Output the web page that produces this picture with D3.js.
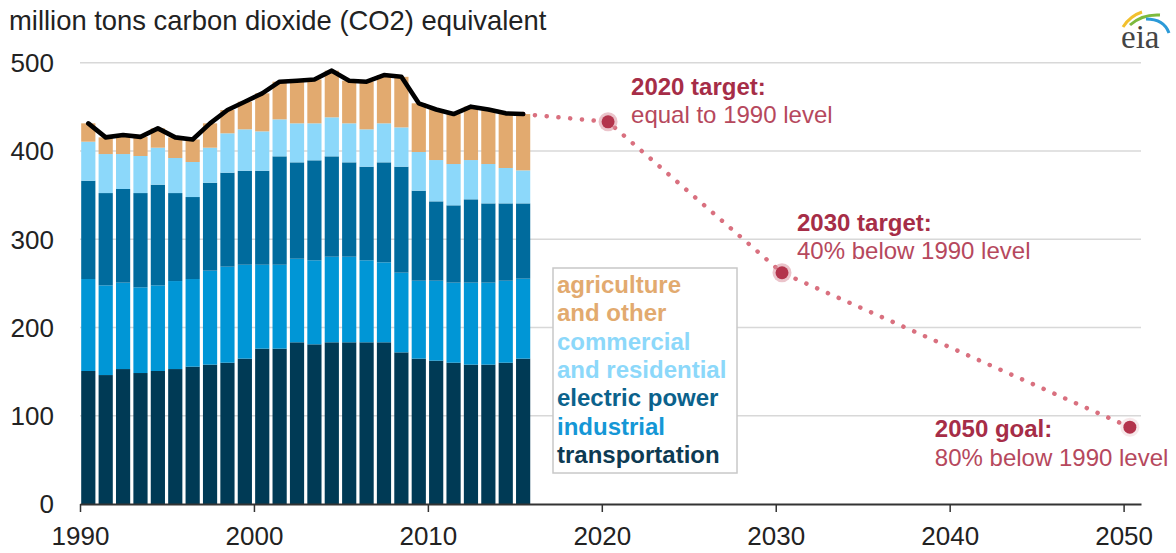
<!DOCTYPE html>
<html>
<head>
<meta charset="utf-8">
<script src="https://cdn.jsdelivr.net/npm/d3@7"></script>
<style>
  body { margin: 0; background: #fff; }
  svg { display: block; font-family: 'Liberation Sans', Arial, sans-serif; }
</style>
</head>
<body>
<svg width="1176" height="553"></svg>
<script>
// values, million tons CO2 equivalent
const years = [1990, 1991, 1992, 1993, 1994, 1995, 1996, 1997, 1998, 1999, 2000, 2001, 2002,
  2003, 2004, 2005, 2006, 2007, 2008, 2009, 2010, 2011, 2012, 2013, 2014, 2015];
const transportation = [150.7, 146.1, 152.9, 148.4, 150.7, 152.9, 155.6, 157.9, 160.1, 164.7, 176.0, 176.0, 183.2,
  180.9, 183.2, 183.2, 183.2, 183.2, 171.8, 164.7, 162.4, 160.1, 157.9, 157.9, 160.1, 164.7];
const industrial = [104.2, 101.6, 97.9, 97.1, 97.0, 99.7, 99.3, 106.5, 108.8, 106.4, 95.1, 95.1, 94.7,
  95.2, 97.0, 97.0, 92.9, 90.6, 90.3, 88.3, 90.6, 90.7, 92.9, 92.9, 92.9, 90.6];
const electricPower = [111.4, 104.6, 106.1, 106.8, 114.1, 99.7, 92.9, 99.6, 106.5, 106.5, 106.5, 122.8, 109.2,
  113.3, 113.7, 106.9, 106.1, 113.3, 120.1, 102.0, 89.9, 87.6, 94.4, 89.8, 87.6, 85.3];
const commercialResidential = [44.2, 44.2, 39.6, 42.0, 41.9, 39.7, 39.7, 39.7, 44.6, 46.9, 44.6, 41.9, 44.2,
  41.9, 44.2, 44.2, 42.3, 44.2, 44.5, 43.8, 46.8, 46.8, 44.5, 44.6, 40.1, 37.4];
const agricultureOther = [20.8, 18.9, 21.5, 21.7, 21.9, 23.4, 25.5, 27.6, 26.4, 31.3, 43.1, 42.7, 48.3,
  49.7, 52.9, 48.3, 54.0, 54.7, 57.3, 55.2, 57.3, 56.6, 60.5, 61.8, 61.9, 63.8];

const targetYears = [2020, 2030, 2050];
const targetValues = [433, 262, 87];
const targetTitles = ['2020 target:', '2030 target:', '2050 goal:'];
const targetNotes = ['equal to 1990 level', '40% below 1990 level', '80% below 1990 level'];

const yTicks = [0, 100, 200, 300, 400, 500];
const xTicks = [1990, 2000, 2010, 2020, 2030, 2040, 2050];

const seriesKeys = ['transportation', 'industrial', 'electric', 'commercial', 'agriculture'];
const seriesColors = ['#003a55', '#0096d6', '#006b9d', '#8cd8fa', '#e2aa6f'];
const legendLines = [
  ['agriculture', 'and other', '#e2aa6f'],
  ['commercial', 'and residential', '#8cd8fa'],
  ['electric power', '#0b628c'],
  ['industrial', '#1597d6'],
  ['transportation', '#0d3a52']
];

const svg = d3.select('svg');

const x = d3.scaleLinear().domain([1990, 2051]).range([80, 1141]);
const y = d3.scaleLinear().domain([0, 500]).range([504, 62.7]);
const barWidth = 14.2;
const barOffset = 1.2;
const barCenter = year => x(year) + barOffset + barWidth / 2;

// table for d3.stack
const table = years.map((year, i) => ({
  year,
  transportation: transportation[i],
  industrial: industrial[i],
  electric: electricPower[i],
  commercial: commercialResidential[i],
  agriculture: agricultureOther[i]
}));
const stacked = d3.stack().keys(seriesKeys)(table);

// gridlines
svg.append('g')
  .selectAll('line')
  .data(yTicks.filter(d => d > 0))
  .join('line')
  .attr('x1', x(1990))
  .attr('x2', x(2051))
  .attr('y1', d => y(d))
  .attr('y2', d => y(d))
  .attr('stroke', '#d8d8d8')
  .attr('stroke-width', 1.5);

// y labels
svg.append('g')
  .selectAll('text')
  .data(yTicks)
  .join('text')
  .attr('x', 54)
  .attr('y', d => y(d))
  .attr('dy', '0.36em')
  .attr('text-anchor', 'end')
  .attr('font-size', 26)
  .attr('fill', '#222')
  .text(d => d);

// title
svg.append('text')
  .attr('x', 9)
  .attr('y', 30)
  .attr('font-size', 27.4)
  .attr('fill', '#222')
  .text('million tons carbon dioxide (CO2) equivalent');

// stacked bars
stacked.forEach((layer, index) => {
  svg.append('g')
    .attr('fill', seriesColors[index])
    .selectAll('rect')
    .data(layer)
    .join('rect')
    .attr('x', d => x(d.data.year) + barOffset)
    .attr('width', barWidth)
    .attr('y', d => y(d[1]))
    .attr('height', d => y(d[0]) - y(d[1]));
});

const totals = table.map(d => ({ year: d.year, total: d3.sum(seriesKeys, k => d[k]) }));
const last = totals[totals.length - 1];

// dotted path to the targets
const dottedPoints = [[barCenter(last.year), y(last.total)]]
  .concat(targetYears.map((year, i) => [x(year + 0.36), y(targetValues[i])]));
svg.append('path')
  .attr('d', d3.line()(dottedPoints))
  .attr('fill', 'none')
  .attr('stroke', '#d9707f')
  .attr('stroke-width', 4.5)
  .attr('stroke-linecap', 'round')
  .attr('stroke-dasharray', '0.1 11.7');

// total line
svg.append('path')
  .attr('d', d3.line().x(d => barCenter(d.year)).y(d => y(d.total))(totals))
  .attr('fill', 'none')
  .attr('stroke', '#000')
  .attr('stroke-width', 4.6)
  .attr('stroke-linejoin', 'round')
  .attr('stroke-linecap', 'round');

// target dots
const targets = svg.append('g');
targetYears.forEach((year, i) => {
  const cx = x(year + 0.36);
  const cy = y(targetValues[i]);
  targets.append('circle')
    .attr('cx', cx).attr('cy', cy).attr('r', 9.5)
    .attr('fill', '#d88a98').attr('opacity', i === 2 ? 0.2 : 0.5);
  targets.append('circle')
    .attr('cx', cx).attr('cy', cy).attr('r', 6.5)
    .attr('fill', '#b3344c');
});

// target labels, offsets from each dot
const labelOffsets = [[23, -27], [15, -42], [-195, 10]];
targetYears.forEach((year, i) => {
  const lx = x(year + 0.36) + labelOffsets[i][0];
  const ly = y(targetValues[i]) + labelOffsets[i][1];
  svg.append('text')
    .attr('x', lx).attr('y', ly)
    .attr('font-size', 24).attr('font-weight', 'bold')
    .attr('fill', '#a62d47')
    .text(targetTitles[i]);
  svg.append('text')
    .attr('x', lx).attr('y', ly + 28.5)
    .attr('font-size', 24)
    .attr('fill', '#b6485d')
    .text(targetNotes[i]);
});

// x axis
const xAxis = svg.append('g')
  .attr('transform', `translate(0,${y(0)})`)
  .call(d3.axisBottom(x).tickValues(xTicks).tickFormat(d3.format('d')).tickSize(8).tickSizeOuter(0).tickPadding(15));
xAxis.select('.domain').attr('stroke', '#333').attr('stroke-width', 1.8);
xAxis.selectAll('.tick line').attr('stroke', '#333').attr('stroke-width', 1.5);
xAxis.selectAll('.tick text')
  .attr('font-size', 26)
  .attr('font-family', "'Liberation Sans', Arial, sans-serif")
  .attr('fill', '#222');

// legend
const legend = svg.append('g');
legend.append('rect')
  .attr('x', 553).attr('y', 268)
  .attr('width', 184).attr('height', 205)
  .attr('fill', '#fff')
  .attr('stroke', '#c8c8c8')
  .attr('stroke-width', 1.5);
let row = 0;
legendLines.forEach(entry => {
  const color = entry[entry.length - 1];
  entry.slice(0, -1).forEach(line => {
    legend.append('text')
      .attr('x', 557)
      .attr('y', 293 + row * 28.3)
      .attr('font-size', 24)
      .attr('font-weight', 'bold')
      .attr('fill', color)
      .text(line);
    row++;
  });
});

// eia logo
const logo = svg.append('g');
logo.append('path').attr('d', 'M1123,27 Q1130,16 1142,12').attr('stroke', '#f2c02e').attr('stroke-width', 3).attr('fill', 'none');
logo.append('path').attr('d', 'M1130,25 Q1142,14 1160,15').attr('stroke', '#7dba3c').attr('stroke-width', 3).attr('fill', 'none');
logo.append('path').attr('d', 'M1146,19 Q1164,19 1169,33').attr('stroke', '#2b9ad8').attr('stroke-width', 3).attr('fill', 'none');
logo.append('text')
  .attr('x', 1121).attr('y', 48)
  .attr('font-family', "'Liberation Serif', 'Times New Roman', serif")
  .attr('font-size', 33)
  .attr('fill', '#444')
  .text('eia');
</script>
</body>
</html>
